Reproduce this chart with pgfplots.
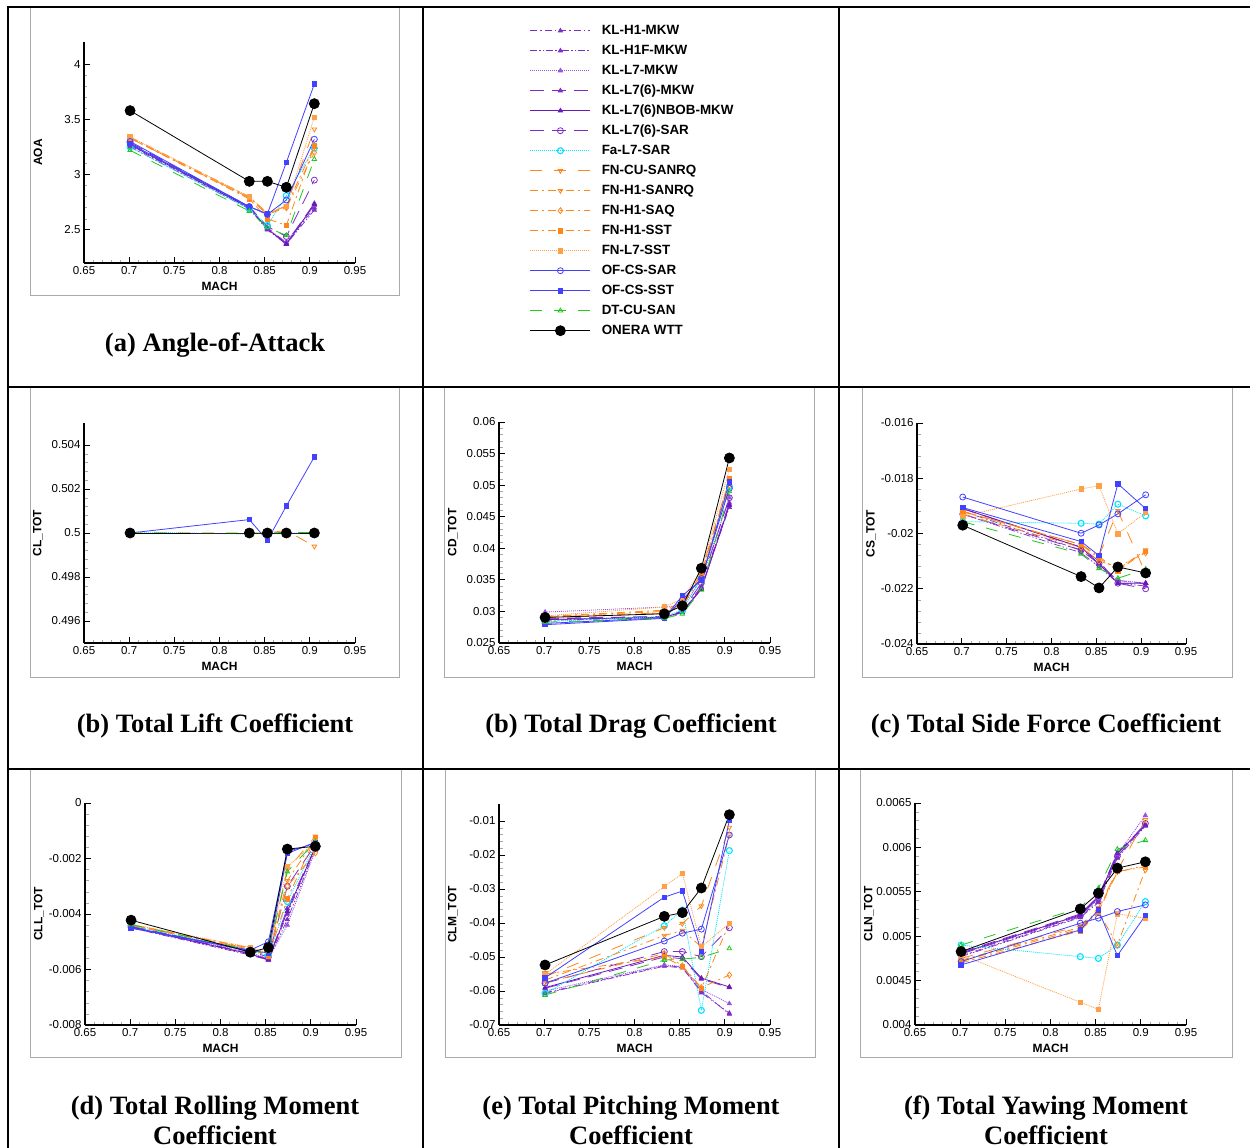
\documentclass[border=0pt]{standalone}
\usepackage{fontspec}
\setmainfont{Liberation Serif}
\setsansfont{Liberation Sans}
\usepackage{pgfplots}
\usepackage{pgfplotstable}
\pgfplotsset{compat=1.18}

\definecolor{klc}{RGB}{125,45,200}
\definecolor{klL}{RGB}{150,85,225}
\definecolor{klD}{RGB}{105,25,185}
\definecolor{cy}{RGB}{0,225,255}
\definecolor{orn}{RGB}{255,135,25}
\definecolor{ornL}{RGB}{255,160,70}
\definecolor{blu}{RGB}{65,65,255}
\definecolor{grn}{RGB}{30,200,30}
\definecolor{frm}{RGB}{170,170,170}

% columns: M AOA CL CD CS CLL CLM CLN
\pgfplotstableread{
M AOA CL CD CS CLL CLM CLN
0.701 3.26 0.5 0.0287 -0.0192 -0.00448 -0.0605 0.00478
0.833 2.70 0.5 0.0291 -0.0206 -0.00545 -0.0525 0.00522
0.853 2.51 0.5 0.0299 -0.0211 -0.00565 -0.0530 0.00540
0.874 2.38 0.5 0.0340 -0.0217 -0.00400 -0.0605 0.00590
0.905 2.70 0.5 0.0470 -0.0218 -0.00160 -0.0665 0.00625
}\tA
\pgfplotstableread{
M AOA CL CD CS CLL CLM CLN
0.701 3.25 0.5 0.0286 -0.0193 -0.00450 -0.0607 0.00477
0.833 2.69 0.5 0.0290 -0.0207 -0.00548 -0.0527 0.00521
0.853 2.50 0.5 0.0298 -0.0212 -0.00566 -0.0532 0.00538
0.874 2.37 0.5 0.0338 -0.0218 -0.00420 -0.0600 0.00588
0.905 2.68 0.5 0.0465 -0.0219 -0.00165 -0.0668 0.00624
}\tB
\pgfplotstableread{
M AOA CL CD CS CLL CLM CLN
0.701 3.27 0.5 0.0299 -0.0191 -0.00445 -0.0600 0.00480
0.833 2.71 0.5 0.0307 -0.0205 -0.00540 -0.0523 0.00524
0.853 2.51 0.5 0.0308 -0.0211 -0.00560 -0.0528 0.00542
0.874 2.39 0.5 0.0350 -0.0217 -0.00440 -0.0595 0.00592
0.905 2.72 0.5 0.0480 -0.0218 -0.00170 -0.0637 0.00636
}\tC
\pgfplotstableread{
M AOA CL CD CS CLL CLM CLN
0.701 3.28 0.5 0.0288 -0.0191 -0.00446 -0.0592 0.00482
0.833 2.71 0.5 0.0292 -0.0205 -0.00542 -0.0500 0.00525
0.853 2.52 0.5 0.0300 -0.0210 -0.00563 -0.0505 0.00545
0.874 2.38 0.5 0.0336 -0.0218 -0.00380 -0.0565 0.00594
0.905 2.74 0.5 0.0472 -0.0218 -0.00158 -0.0590 0.00626
}\tD
\pgfplotstableread{
M AOA CL CD CS CLL CLM CLN
0.701 3.27 0.5 0.0287 -0.0191 -0.00447 -0.0590 0.00481
0.833 2.70 0.5 0.0291 -0.0205 -0.00544 -0.0495 0.00524
0.853 2.51 0.5 0.0299 -0.0211 -0.00565 -0.0500 0.00544
0.874 2.37 0.5 0.0335 -0.0218 -0.00390 -0.0562 0.00593
0.905 2.73 0.5 0.0468 -0.0218 -0.00160 -0.0588 0.00625
}\tE
\pgfplotstableread{
M AOA CL CD CS CLL CLM CLN
0.701 3.29 0.5 0.0289 -0.0193 -0.00444 -0.0577 0.00480
0.833 2.71 0.5 0.0292 -0.0206 -0.00535 -0.0484 0.00523
0.853 2.53 0.5 0.0301 -0.0211 -0.00555 -0.0484 0.00543
0.874 2.44 0.5 0.0345 -0.0218 -0.00300 -0.0499 0.00590
0.905 2.95 0.5 0.0480 -0.0220 -0.00150 -0.0414 0.00627
}\tF
\pgfplotstableread{
M AOA CL CD CS CLL CLM CLN
0.701 3.25 0.50005 0.0284 -0.01957 -0.00442 -0.0607 0.00490
0.833 2.69 0.49995 0.0292 -0.01963 -0.00532 -0.0408 0.00477
0.853 2.54 0.5 0.0302 -0.01966 -0.00550 -0.0362 0.00475
0.874 2.81 0.5 0.0352 -0.01894 -0.00355 -0.0657 0.00490
0.905 3.24 0.5 0.0498 -0.01936 -0.00150 -0.0187 0.00539
}\tG
\pgfplotstableread{
M AOA CL CD CS CLL CLM CLN
0.701 3.33 0.5 0.0291 -0.0192 -0.00440 -0.0558 0.00475
0.833 2.79 0.5 0.0298 -0.0204 -0.00525 -0.0414 0.00512
0.853 2.64 0.5 0.0310 -0.0208 -0.00545 -0.0402 0.00532
0.874 2.72 0.50012 0.0362 -0.01918 -0.00240 -0.0350 0.00574
0.905 3.41 0.49939 0.0510 -0.02144 -0.00120 -0.0119 0.00631
}\tH
\pgfplotstableread{
M AOA CL CD CS CLL CLM CLN
0.701 3.34 0.5 0.0292 -0.0192 -0.00438 -0.0568 0.00473
0.833 2.80 0.5 0.0300 -0.0204 -0.00522 -0.0437 0.00510
0.853 2.65 0.5 0.0312 -0.0209 -0.00548 -0.0422 0.00530
0.874 2.71 0.5 0.0360 -0.0213 -0.00280 -0.0470 0.00572
0.905 3.26 0.5 0.0505 -0.0206 -0.00130 -0.0141 0.00580
}\tI
\pgfplotstableread{
M AOA CL CD CS CLL CLM CLN
0.701 3.33 0.5 0.0290 -0.0193 -0.00441 -0.0575 0.00472
0.833 2.79 0.5 0.0297 -0.0205 -0.00527 -0.0490 0.00508
0.853 2.64 0.5 0.0309 -0.0210 -0.00550 -0.0526 0.00528
0.874 2.70 0.5 0.0355 -0.0212 -0.00300 -0.0590 0.00490
0.905 3.20 0.5 0.0500 -0.0207 -0.00180 -0.0553 0.00575
}\tJ
\pgfplotstableread{
M AOA CL CD CS CLL CLM CLN
0.701 3.33 0.5 0.0292 -0.01921 -0.00439 -0.0550 0.00470
0.833 2.78 0.5 0.0302 -0.0204 -0.00523 -0.0500 0.00506
0.853 2.60 0.5 0.0315 -0.02083 -0.00552 -0.0528 0.00527
0.874 2.54 0.5 0.0358 -0.02135 -0.00345 -0.0592 0.00573
0.905 3.26 0.5 0.0510 -0.02064 -0.00125 -0.0401 0.00578
}\tK
\pgfplotstableread{
M AOA CL CD CS CLL CLM CLN
0.701 3.34 0.5 0.0293 -0.01938 -0.00437 -0.0551 0.00479
0.833 2.80 0.5 0.0307 -0.01839 -0.00520 -0.0293 0.004256
0.853 2.65 0.5 0.0320 -0.01827 -0.00540 -0.0254 0.004177
0.874 2.71 0.5 0.0365 -0.02001 -0.00230 -0.0470 0.005252
0.905 3.52 0.5 0.0525 -0.01924 -0.00140 -0.0401 0.005203
}\tL
\pgfplotstableread{
M AOA CL CD CS CLL CLM CLN
0.701 3.30 0.5 0.0281 -0.01868 -0.00449 -0.0577 0.004714
0.833 2.71 0.5 0.0290 -0.01999 -0.00530 -0.0453 0.005147
0.853 2.64 0.5 0.0318 -0.01969 -0.00500 -0.0430 0.005203
0.874 2.77 0.5 0.0352 -0.01929 -0.00175 -0.0418 0.005278
0.905 3.32 0.5 0.0495 -0.01860 -0.00145 -0.0141 0.005353
}\tM
\pgfplotstableread{
M AOA CL CD CS CLL CLM CLN
0.701 3.28 0.5 0.0279 -0.01906 -0.00451 -0.0561 0.004677
0.833 2.71 0.50061 0.0289 -0.02029 -0.00532 -0.0324 0.005071
0.853 2.645 0.49966 0.0325 -0.02080 -0.00540 -0.0306 0.005297
0.874 3.11 0.50123 0.0350 -0.01820 -0.00182 -0.0484 0.004782
0.905 3.82 0.50346 0.0505 -0.01910 -0.00141 -0.0098 0.005233
}\tN
\pgfplotstableread{
M AOA CL CD CS CLL CLM CLN
0.701 3.22 0.5 0.0283 -0.01957 -0.00438 -0.0612 0.00490
0.833 2.67 0.49998 0.0289 -0.02074 -0.00530 -0.0509 0.00532
0.853 2.52 0.5 0.0296 -0.02126 -0.00535 -0.0506 0.00554
0.874 2.45 0.50003 0.0334 -0.02162 -0.00247 -0.0501 0.00598
0.905 3.14 0.50002 0.0490 -0.02129 -0.00140 -0.0475 0.00608
}\tO
\pgfplotstableread{
M AOA CL CD CS CLL CLM CLN
0.701 3.579 0.5 0.02905 -0.0197 -0.004222 -0.05235 0.004827
0.833 2.939 0.5 0.02963 -0.02156 -0.005377 -0.03804 0.005308
0.853 2.939 0.5 0.0309 -0.02197 -0.00521 -0.03696 0.005485
0.874 2.885 0.5 0.03684 -0.02121 -0.00166 -0.0297 0.005767
0.905 3.642 0.5 0.0543 -0.02143 -0.00156 -0.00814 0.005838
}\tP

\pgfplotsset{
 sA/.style={color=klc, draw=klc, line width=0.7pt, dash pattern=on 7pt off 3pt on 1.5pt off 3pt, mark=triangle*, mark size=2.4pt, mark options={solid}},
 sB/.style={color=klc, draw=klc, line width=0.7pt, dash pattern=on 7pt off 2pt on 1.5pt off 2pt on 1.5pt off 2pt, mark=triangle*, mark size=2.4pt, mark options={solid}},
 sC/.style={color=klL, draw=klL, line width=0.8pt, dash pattern=on 1pt off 1pt, mark=triangle*, mark size=2.4pt, mark options={solid}},
 sD/.style={color=klc, draw=klc, line width=0.8pt, dash pattern=on 14pt off 8pt, mark=triangle*, mark size=2.4pt, mark options={solid}},
 sE/.style={color=klD, draw=klD, line width=0.8pt, solid, mark=triangle*, mark size=2.4pt},
 sF/.style={color=klc, draw=klc, line width=0.8pt, dash pattern=on 14pt off 8pt, mark=o, mark size=3pt, mark options={solid}},
 sG/.style={color=cy, draw=cy, line width=0.8pt, dash pattern=on 1pt off 1pt, mark=o, mark size=3pt, mark options={solid, line width=1.1pt}},
 sH/.style={color=orn, draw=orn, line width=0.8pt, dash pattern=on 12pt off 12pt, mark=triangle, mark size=2.6pt, mark options={solid, rotate=180}},
 sI/.style={color=orn, draw=orn, line width=0.8pt, dash pattern=on 8pt off 4pt on 2pt off 4pt, mark=triangle, mark size=2.6pt, mark options={solid, rotate=180}},
 sJ/.style={color=orn, draw=orn, line width=0.8pt, dash pattern=on 8pt off 4pt on 2pt off 4pt, mark=diamond, mark size=3pt, mark options={solid}},
 sK/.style={color=orn, draw=orn, line width=0.8pt, dash pattern=on 8pt off 4pt on 2pt off 4pt, mark=square*, mark size=2.2pt, mark options={solid}},
 sL/.style={color=ornL, draw=ornL, line width=0.8pt, dash pattern=on 1pt off 1pt, mark=square*, mark size=2.2pt, mark options={solid}},
 sM/.style={color=blu, draw=blu, line width=0.8pt, solid, mark=o, mark size=3pt},
 sN/.style={color=blu, draw=blu, line width=0.8pt, solid, mark=square*, mark size=2.2pt},
 sO/.style={color=grn, draw=grn, line width=0.8pt, dash pattern=on 12pt off 12pt, mark=triangle, mark size=2.6pt, mark options={solid}},
 sP/.style={color=black, draw=black, line width=0.8pt, solid, mark=*, mark size=5pt},
 tec/.style={
   scale only axis, width=271pt, height=221pt,
   xmin=0.65, xmax=0.95, xtick={0.65,0.7,0.75,0.8,0.85,0.9,0.95},
   axis lines=left, axis line style={-, line width=1.2pt},
   tick style={black, line width=0.8pt}, major tick length=6pt, minor tick length=3.5pt,
   minor tick num=4, minor tick style={black!35, line width=0.6pt},
   tick align=inside,
   scaled x ticks=false, scaled y ticks=false,
   ticklabel style={font=\sffamily\fontsize{11.5}{12}\selectfont},
   /pgf/number format/assume math mode=true,
   /pgf/number format/fixed, /pgf/number format/precision=4,
   xlabel={MACH},
   label style={font=\sffamily\bfseries\fontsize{12}{13}\selectfont},
   xlabel style={at={(axis description cs:0.5,0)}, anchor=center, yshift=-23pt},
   ylabel style={at={(axis description cs:-0.17,0.5)}, anchor=center},
   clip=false,
 },
}

\newcommand\allplots[1]{%
 \addplot[sA] table[x=M,y=#1]{\tA};
 \addplot[sB] table[x=M,y=#1]{\tB};
 \addplot[sC] table[x=M,y=#1]{\tC};
 \addplot[sD] table[x=M,y=#1]{\tD};
 \addplot[sE] table[x=M,y=#1]{\tE};
 \addplot[sF] table[x=M,y=#1]{\tF};
 \addplot[sG] table[x=M,y=#1]{\tG};
 \addplot[sH] table[x=M,y=#1]{\tH};
 \addplot[sI] table[x=M,y=#1]{\tI};
 \addplot[sJ] table[x=M,y=#1]{\tJ};
 \addplot[sK] table[x=M,y=#1]{\tK};
 \addplot[sL] table[x=M,y=#1]{\tL};
 \addplot[sM] table[x=M,y=#1]{\tM};
 \addplot[sN] table[x=M,y=#1]{\tN};
 \addplot[sO] table[x=M,y=#1]{\tO};
 \addplot[sP] table[x=M,y=#1]{\tP};
}
\newcommand\ttl{\bfseries\fontsize{26.5}{30}\selectfont}

\begin{document}
\begin{tikzpicture}
\useasboundingbox (0pt,0pt) rectangle (1250pt,-1148pt);
% gray plot frames
\begin{scope}[frm, line width=1pt]
\draw (30pt,-7pt) rectangle (399pt,-295pt);
\draw (30pt,-387pt) rectangle (399pt,-677pt);
\draw (444pt,-387pt) rectangle (814pt,-677pt);
\draw (862pt,-387pt) rectangle (1232pt,-677pt);
\draw (30pt,-769pt) rectangle (401pt,-1057pt);
\draw (445pt,-769pt) rectangle (815pt,-1057pt);
\draw (860pt,-769pt) rectangle (1232pt,-1057pt);
\end{scope}
% black grid
\begin{scope}[black, line width=2.6pt]
\draw (6.7pt,-7pt) -- (1250pt,-7pt);
\draw (6.7pt,-387pt) -- (1250pt,-387pt);
\draw (6.7pt,-769pt) -- (1250pt,-769pt);
\draw (8pt,-5.7pt) -- (8pt,-1150pt);
\draw (423pt,-7pt) -- (423pt,-1150pt);
\draw (839pt,-7pt) -- (839pt,-1150pt);
\end{scope}

% (a) AOA
\begin{axis}[tec, at={(84pt,-263pt)}, anchor=south west, ymin=2.2, ymax=4.2, ytick={2.5,3,3.5,4}, ylabel={AOA}]
\allplots{AOA}
\end{axis}
% CL
\begin{axis}[tec, at={(84pt,-643pt)}, anchor=south west, height=220pt, ymin=0.495, ymax=0.505, ytick={0.496,0.498,0.5,0.502,0.504}, ylabel={CL\_TOT}]
\allplots{CL}
\end{axis}
% CD
\begin{axis}[tec, at={(499pt,-643pt)}, anchor=south west, ymin=0.025, ymax=0.06, ytick={0.025,0.03,0.035,0.04,0.045,0.05,0.055,0.06}, ylabel={CD\_TOT}]
\allplots{CD}
\end{axis}
% CS
\begin{axis}[tec, at={(917pt,-644pt)}, anchor=south west, width=269pt, ymin=-0.024, ymax=-0.016, ytick={-0.024,-0.022,-0.02,-0.018,-0.016}, ylabel={CS\_TOT}]
\allplots{CS}
\end{axis}
% CLL
\begin{axis}[tec, at={(85pt,-1025pt)}, anchor=south west, height=222pt, ymin=-0.008, ymax=0, ytick={-0.008,-0.006,-0.004,-0.002,0}, ylabel={CLL\_TOT}]
\allplots{CLL}
\end{axis}
% CLM
\begin{axis}[tec, at={(499pt,-1025pt)}, anchor=south west, ymin=-0.07, ymax=-0.005, ytick={-0.07,-0.06,-0.05,-0.04,-0.03,-0.02,-0.01}, ylabel={CLM\_TOT}]
\allplots{CLM}
\end{axis}
% CLN
\begin{axis}[tec, at={(915pt,-1025pt)}, anchor=south west, height=222pt, ymin=0.004, ymax=0.0065, ytick={0.004,0.0045,0.005,0.0055,0.006,0.0065}, ylabel={CLN\_TOT}]
\allplots{CLN}
\end{axis}

% legend
\begin{axis}[at={(530pt,-24.5pt)}, anchor=north west, hide axis, scale only axis, width=20pt, height=20pt,
  xmin=0, xmax=1, ymin=0, ymax=1,
  legend cell align=left,
  legend style={at={(0,1)}, anchor=north west, draw=none, fill=none, inner sep=0pt, outer sep=0pt,
    row sep=7.6pt, column sep=11pt,
    font=\sffamily\bfseries\fontsize{13.4}{15}\selectfont,
    nodes={inner sep=0pt, text height=9.6pt, text depth=2.8pt}},
  legend image code/.code={\draw[mark repeat=2,mark phase=2,#1] plot coordinates {(0pt,0pt) (30pt,0pt) (60pt,0pt)};}]
\addlegendimage{sA}\addlegendentry{KL-H1-MKW}
\addlegendimage{sB}\addlegendentry{KL-H1F-MKW}
\addlegendimage{sC}\addlegendentry{KL-L7-MKW}
\addlegendimage{sD}\addlegendentry{KL-L7(6)-MKW}
\addlegendimage{sE}\addlegendentry{KL-L7(6)NBOB-MKW}
\addlegendimage{sF}\addlegendentry{KL-L7(6)-SAR}
\addlegendimage{sG}\addlegendentry{Fa-L7-SAR}
\addlegendimage{sH}\addlegendentry{FN-CU-SANRQ}
\addlegendimage{sI}\addlegendentry{FN-H1-SANRQ}
\addlegendimage{sJ}\addlegendentry{FN-H1-SAQ}
\addlegendimage{sK}\addlegendentry{FN-H1-SST}
\addlegendimage{sL}\addlegendentry{FN-L7-SST}
\addlegendimage{sM}\addlegendentry{OF-CS-SAR}
\addlegendimage{sN}\addlegendentry{OF-CS-SST}
\addlegendimage{sO}\addlegendentry{DT-CU-SAN}
\addlegendimage{sP}\addlegendentry{ONERA WTT}
\end{axis}

% titles
\node[font=\ttl, anchor=base] at (215pt,-351pt) {(a) Angle-of-Attack};
\node[font=\ttl, anchor=base] at (215pt,-732pt) {(b) Total Lift Coefficient};
\node[font=\ttl, anchor=base] at (631pt,-732pt) {(b) Total Drag Coefficient};
\node[font=\ttl, anchor=base] at (1046pt,-732pt) {(c) Total Side Force Coefficient};
\node[font=\ttl, anchor=base] at (215pt,-1114pt) {(d) Total Rolling Moment};
\node[font=\ttl, anchor=base] at (215pt,-1144pt) {Coefficient};
\node[font=\ttl, anchor=base] at (631pt,-1114pt) {(e) Total Pitching Moment};
\node[font=\ttl, anchor=base] at (631pt,-1144pt) {Coefficient};
\node[font=\ttl, anchor=base] at (1046pt,-1114pt) {(f) Total Yawing Moment};
\node[font=\ttl, anchor=base] at (1046pt,-1144pt) {Coefficient};
\end{tikzpicture}
\end{document}
